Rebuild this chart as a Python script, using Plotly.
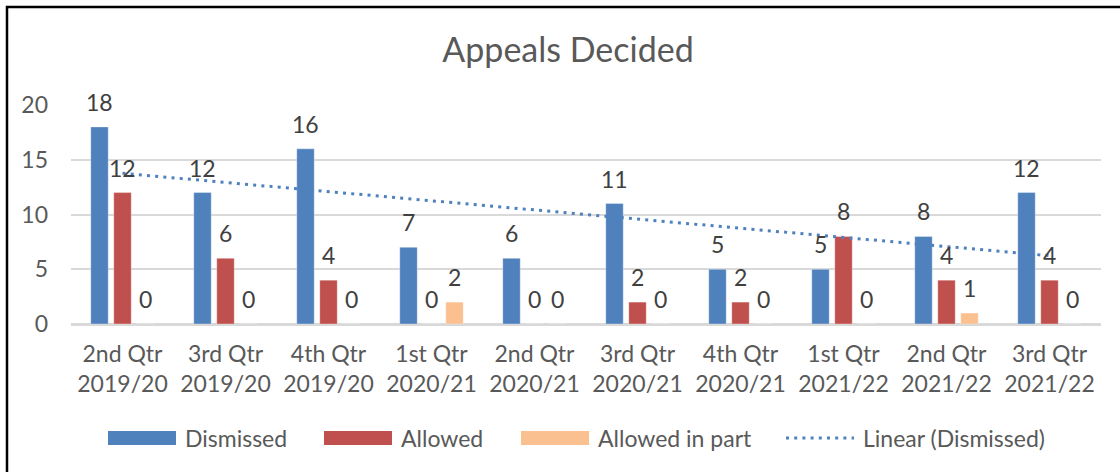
import numpy as np
import plotly.graph_objects as go

quarters = [
    "2nd Qtr<br>2019/20", "3rd Qtr<br>2019/20", "4th Qtr<br>2019/20",
    "1st Qtr<br>2020/21", "2nd Qtr<br>2020/21", "3rd Qtr<br>2020/21",
    "4th Qtr<br>2020/21", "1st Qtr<br>2021/22", "2nd Qtr<br>2021/22",
    "3rd Qtr<br>2021/22",
]
dismissed = [18, 12, 16, 7, 6, 11, 5, 5, 8, 12]
allowed = [12, 6, 4, 0, 0, 2, 2, 8, 4, 4]
allowed_in_part = [0, 0, 0, 2, 0, 0, 0, 0, 1, 0]

BLUE = "#4F81BD"
RED = "#C0504D"
PEACH = "#FAC090"
TEXT = "#595959"
LABEL = "#404040"
GRID = "#D9D9D9"
FONT = "Lato, sans-serif"

# plot area in pixels (1120 x 472 page)
W, H = 1120, 472
PL, PR, PT, PB = 71, 1101, 105, 324


def px_x(x):
    return (x - PL) / (PR - PL)


def px_y(y):
    return (PB - y) / (PB - PT)


# Excel-style linear trendline of the Dismissed series
idx = np.arange(1, len(dismissed) + 1)
slope, icpt = np.polyfit(idx, dismissed, 1)
trend = slope * idx + icpt

fig = go.Figure()
series = [
    ("Dismissed", dismissed, BLUE, -23),
    ("Allowed", allowed, RED, 0),
    ("Allowed in part", allowed_in_part, PEACH, 23),
]
for name, vals, color, _ in series:
    fig.add_trace(go.Bar(
        x=quarters, y=vals, name=name,
        marker=dict(color=color, line=dict(width=1, color="rgba(255,255,255,0.35)")),
        hoverinfo="y+name",
    ))

fig.add_trace(go.Scatter(
    x=quarters, y=trend, mode="lines", name="Linear (Dismissed)",
    line=dict(color=BLUE, width=3, dash="3px,5.2px"),
    hoverinfo="skip",
))

annotations = []
for name, vals, color, dx in series:
    for q, v in zip(quarters, vals):
        annotations.append(dict(
            x=q, y=v, xref="x", yref="y", text=str(v), showarrow=False,
            xshift=dx, yshift=25, yanchor="middle",
            font=dict(family=FONT, size=23, color=LABEL),
        ))

# custom legend with wide Excel-like swatches
shapes = []
legend_items = [
    ("Dismissed", BLUE, "bar", 108),
    ("Allowed", RED, "bar", 324),
    ("Allowed in part", PEACH, "bar", 521),
    ("Linear (Dismissed)", BLUE, "line", 786),
]
LEG_Y = 438
for label, color, kind, x0 in legend_items:
    if kind == "bar":
        shapes.append(dict(
            type="rect", xref="paper", yref="paper",
            x0=px_x(x0), x1=px_x(x0 + 68),
            y0=px_y(LEG_Y + 7), y1=px_y(LEG_Y - 7),
            fillcolor=color, line=dict(width=0),
        ))
    else:
        shapes.append(dict(
            type="line", xref="paper", yref="paper",
            x0=px_x(x0), x1=px_x(x0 + 68), y0=px_y(LEG_Y), y1=px_y(LEG_Y),
            line=dict(color=color, width=3, dash="3px,5.2px"),
        ))
    annotations.append(dict(
        x=px_x(x0 + 75), y=px_y(LEG_Y), xref="paper", yref="paper",
        xanchor="left", yanchor="middle", text=label, showarrow=False,
        font=dict(family=FONT, size=23, color=TEXT),
    ))

# outer frame (only top and left edges visible in the crop)
shapes.append(dict(
    type="rect", xref="paper", yref="paper",
    x0=px_x(7), x1=px_x(1140), y0=px_y(490), y1=px_y(7),
    line=dict(color="#000000", width=2.5), fillcolor="rgba(0,0,0,0)",
    layer="above",
))

fig.update_layout(
    width=W, height=H,
    paper_bgcolor="#ffffff", plot_bgcolor="#ffffff",
    font=dict(family=FONT, color=TEXT, size=23),
    margin=dict(l=PL, r=W - PR, t=PT, b=H - PB, autoexpand=False),
    title=dict(
        text="Appeals Decided", x=568 / W, xanchor="center",
        y=1 - 50 / H, yanchor="middle",
        font=dict(family=FONT, size=34, color=TEXT),
    ),
    barmode="group", bargap=0.33, bargroupgap=0.24,
    showlegend=False,
    xaxis=dict(
        type="category", showgrid=False, zeroline=False, showline=False,
        ticks="", tickfont=dict(family=FONT, size=23, color=TEXT),
        ticklabelstandoff=14,
    ),
    yaxis=dict(
        range=[0, 20], dtick=5, showgrid=True, gridcolor=GRID, gridwidth=1.5,
        zeroline=True, zerolinecolor=GRID, zerolinewidth=2.5, showline=False,
        ticks="", tickfont=dict(family=FONT, size=23, color=TEXT),
        ticklabelstandoff=22,
    ),
    annotations=annotations,
    shapes=shapes,
)

# drop the default body margin so the figure sits at the page origin
fig.write_html(
    "out.html",
    config={"displayModeBar": False},
    post_script="document.body.style.margin='0';",
)
